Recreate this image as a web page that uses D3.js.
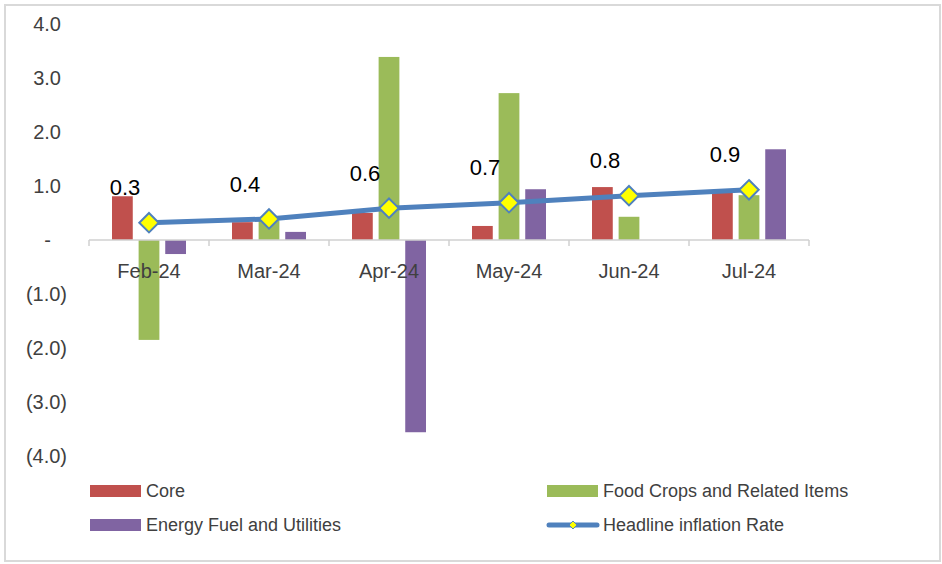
<!DOCTYPE html>
<html>
<head>
<meta charset="utf-8">
<script src="https://cdn.jsdelivr.net/npm/d3@7"></script>
<style>
  body { margin: 0; background: #fff; }
  text { font-family: "Liberation Sans", Arial, sans-serif; }
</style>
</head>
<body>
<div id="canvas"></div>
<script>
var w = 942;
var h = 564;

// data
var months = ["Feb-24", "Mar-24", "Apr-24", "May-24", "Jun-24", "Jul-24"];
var core = [0.81, 0.33, 0.50, 0.26, 0.98, 0.88];
var food = [-1.85, 0.36, 3.39, 2.72, 0.43, 0.83];
var energy = [-0.26, 0.15, -3.56, 0.94, 0, 1.68];
var headline = [0.32, 0.39, 0.59, 0.69, 0.82, 0.93];
var yTicks = [4, 3, 2, 1, 0, -1, -2, -3, -4];
var seriesNames = ["Core", "Food Crops and Related Items", "Energy Fuel and Utilities"];
var lineName = "Headline inflation Rate";

var colors = {"Core": "#C0504D", "Food Crops and Related Items": "#9BBB59", "Energy Fuel and Utilities": "#8064A2"};
var lineColor = "#4F81BD";

var canvas = d3.select("#canvas")
    .append("svg")
    .attr("width", w)
    .attr("height", h);

// outer frame
canvas.append("rect")
    .attr("x", 5).attr("y", 5)
    .attr("width", 935).attr("height", 556)
    .attr("fill", "none")
    .attr("stroke", "#d9d9d9")
    .attr("stroke-width", 2);

var x0 = d3.scaleBand().domain(months).range([89, 809]);
var x1 = d3.scaleBand().domain(seriesNames).range([23, 97]).paddingInner(0.22);
var y = d3.scaleLinear().domain([-4, 4]).range([456, 24]);

// y tick labels, accounting style
canvas.selectAll("text.ytick")
    .data(yTicks)
    .join("text")
    .attr("class", "ytick")
    .attr("x", function(d) { return d < 0 ? 67 : (d === 0 ? 51 : 61); })
    .attr("y", function(d) { return y(d); })
    .attr("dy", "0.35em")
    .attr("text-anchor", "end")
    .attr("fill", "#404040")
    .style("font-size", "20px")
    .text(function(d) {
        if (d === 0) return "-";
        var s = d3.format(".1f")(Math.abs(d));
        return d < 0 ? "(" + s + ")" : s;
    });

// bars
var rows = months.map(function(m, i) {
    return {month: m, vals: [
        {key: seriesNames[0], v: core[i]},
        {key: seriesNames[1], v: food[i]},
        {key: seriesNames[2], v: energy[i]}
    ]};
});

var groups = canvas.selectAll("g.grp")
    .data(rows)
    .join("g")
    .attr("class", "grp")
    .attr("transform", function(d) { return "translate(" + x0(d.month) + ",0)"; });

groups.selectAll("rect")
    .data(function(d) { return d.vals; })
    .join("rect")
    .attr("x", function(d) { return x1(d.key); })
    .attr("width", x1.bandwidth())
    .attr("y", function(d) { return y(Math.max(0, d.v)); })
    .attr("height", function(d) { return Math.abs(y(d.v) - y(0)); })
    .attr("fill", function(d) { return colors[d.key]; });

// x axis
var xAxis = canvas.append("g")
    .attr("transform", "translate(0," + y(0) + ")");
xAxis.append("line")
    .attr("x1", 89).attr("x2", 809)
    .attr("stroke", "#d0d0d0").attr("stroke-width", 1.5);
var bounds = months.map(function(m) { return x0(m); }).concat([x0.range()[1]]);
xAxis.selectAll("line.tick")
    .data(bounds)
    .join("line")
    .attr("class", "tick")
    .attr("x1", function(d) { return d; })
    .attr("x2", function(d) { return d; })
    .attr("y1", 0).attr("y2", 6)
    .attr("stroke", "#d0d0d0").attr("stroke-width", 1.5);
xAxis.selectAll("text")
    .data(months)
    .join("text")
    .attr("x", function(d) { return x0(d) + x0.bandwidth() / 2; })
    .attr("y", 31)
    .attr("dy", "0.35em")
    .attr("text-anchor", "middle")
    .attr("fill", "#404040")
    .style("font-size", "20px")
    .text(function(d) { return d; });

// headline line
var cx = function(d, i) { return x0(months[i]) + x0.bandwidth() / 2; };
var line = d3.line()
    .x(cx)
    .y(function(d) { return y(d); });

canvas.append("path")
    .datum(headline)
    .attr("d", line)
    .attr("fill", "none")
    .attr("stroke", lineColor)
    .attr("stroke-width", 5);

var diamond = d3.symbol().type(d3.symbolDiamond2).size(240);
canvas.selectAll("path.mk")
    .data(headline)
    .join("path")
    .attr("class", "mk")
    .attr("d", diamond)
    .attr("transform", function(d, i) { return "translate(" + cx(d, i) + "," + y(d) + ")"; })
    .attr("fill", "#FFFF00")
    .attr("stroke", lineColor)
    .attr("stroke-width", 2);

canvas.selectAll("text.lbl")
    .data(headline)
    .join("text")
    .attr("class", "lbl")
    .attr("x", function(d, i) { return cx(d, i) - 24; })
    .attr("y", function(d) { return y(d) - 35; })
    .attr("dy", "0.35em")
    .attr("text-anchor", "middle")
    .attr("fill", "#000")
    .style("font-size", "22px")
    .text(function(d) { return d3.format(".1f")(d); });

// legend
var legendItems = [
    {name: seriesNames[0], type: "bar", x: 90, y: 491},
    {name: seriesNames[1], type: "bar", x: 547, y: 491},
    {name: seriesNames[2], type: "bar", x: 90, y: 525},
    {name: lineName, type: "line", x: 547, y: 525}
];
var lg = canvas.selectAll("g.leg")
    .data(legendItems)
    .join("g")
    .attr("class", "leg")
    .attr("transform", function(d) { return "translate(" + d.x + "," + d.y + ")"; });

lg.filter(function(d) { return d.type === "bar"; })
    .append("rect")
    .attr("x", 0).attr("y", -6)
    .attr("width", 51).attr("height", 12)
    .attr("fill", function(d) { return colors[d.name]; });

var ll = lg.filter(function(d) { return d.type === "line"; });
ll.append("line")
    .attr("x1", 2).attr("x2", 50)
    .attr("stroke", lineColor).attr("stroke-width", 5)
    .attr("stroke-linecap", "round");
ll.append("path")
    .attr("d", d3.symbol().type(d3.symbolDiamond2).size(40))
    .attr("transform", "translate(26,0)")
    .attr("fill", "#FFFF00")
    .attr("stroke", lineColor)
    .attr("stroke-width", 1);

lg.append("text")
    .attr("x", 56)
    .attr("dy", "0.35em")
    .attr("fill", "#404040")
    .style("font-size", "18px")
    .text(function(d) { return d.name; });
</script>
</body>
</html>
